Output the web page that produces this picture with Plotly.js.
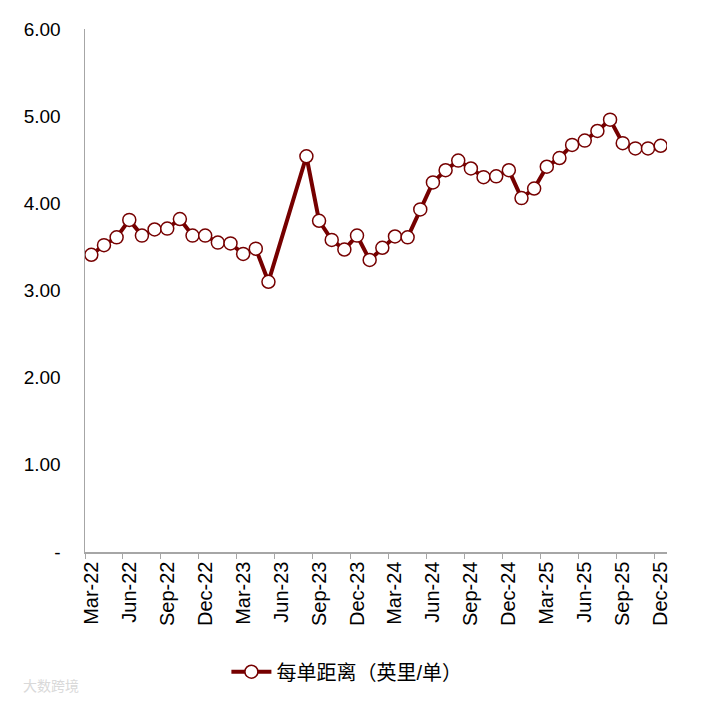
<!DOCTYPE html>
<html>
<head>
<meta charset="utf-8">
<script src="https://cdn.plot.ly/plotly-3.0.1.min.js"></script>
<style>
  html, body { margin: 0; padding: 0; background: #fff; }
  #chart { width: 705px; height: 702px; }
</style>
</head>
<body>
<div id="chart"></div>
<script>
// monthly categories, Mar-22 .. Dec-25
const months = [
    "Mar-22", "Apr-22", "May-22", "Jun-22", "Jul-22", "Aug-22", "Sep-22", "Oct-22", "Nov-22", "Dec-22",
    "Jan-23", "Feb-23", "Mar-23", "Apr-23", "May-23", "Jun-23", "Jul-23", "Aug-23", "Sep-23", "Oct-23",
    "Nov-23", "Dec-23", "Jan-24", "Feb-24", "Mar-24", "Apr-24", "May-24", "Jun-24", "Jul-24", "Aug-24",
    "Sep-24", "Oct-24", "Nov-24", "Dec-24", "Jan-25", "Feb-25", "Mar-25", "Apr-25", "May-25", "Jun-25",
    "Jul-25", "Aug-25", "Sep-25", "Oct-25", "Nov-25", "Dec-25"
];

// miles per order (Jun-23, Jul-23 missing)
const milesPerOrder = [
    3.41, 3.52, 3.61, 3.81, 3.63, 3.70, 3.71, 3.82, 3.63, 3.63,
    3.55, 3.54, 3.42, 3.48, 3.10, null, null, 4.54, 3.80, 3.58,
    3.47, 3.63, 3.35, 3.49, 3.62, 3.61, 3.93, 4.24, 4.38, 4.49,
    4.40, 4.30, 4.31, 4.38, 4.06, 4.17, 4.42, 4.52, 4.67, 4.72,
    4.83, 4.96, 4.69, 4.63, 4.63, 4.66
];

const seriesName = "每单距离（英里/单）";
const yTickVals = [0, 1, 2, 3, 4, 5, 6];
const yTickText = ["-", "1.00", "2.00", "3.00", "4.00", "5.00", "6.00"];

const LINE_CLR = "#760000";
const FONT = "Liberation Sans, Arial, Noto Sans CJK SC, sans-serif";

const trace = {
    x: months,
    y: milesPerOrder,
    type: "scatter",
    mode: "lines+markers",
    name: seriesName,
    connectgaps: true,
    line: {color: LINE_CLR, width: 4},
    marker: {size: 13, color: "#ffffff", line: {color: LINE_CLR, width: 1.5}}
};

const layout = {
    width: 705,
    height: 702,
    margin: {l: 85, r: 38, t: 29.5, b: 149},
    paper_bgcolor: "#ffffff",
    plot_bgcolor: "#ffffff",
    font: {family: FONT, size: 19, color: "#000"},
    showlegend: true,
    xaxis: {
        type: "category",
        range: [-0.5, 45.5],
        dtick: 3,
        tick0: 0,
        tickson: "boundaries",   // ticks between months, labels centred
        ticks: "outside",
        ticklen: 5,
        tickcolor: "#a6a6a6",
        tickangle: -90,
        tickfont: {size: 20, family: FONT},
        showline: true,
        linecolor: "#a6a6a6",
        linewidth: 1.5,
        showgrid: false,
        zeroline: false,
        fixedrange: true
    },
    yaxis: {
        range: [0, 6],
        tickvals: yTickVals,
        ticktext: yTickText,
        ticks: "",
        ticklabelstandoff: 19,
        tickfont: {size: 19, family: FONT},
        showline: true,
        linecolor: "#a6a6a6",
        linewidth: 1.5,
        showgrid: false,
        zeroline: false,
        fixedrange: true
    },
    legend: {
        orientation: "h",
        x: 0.45,
        xanchor: "center",
        y: -0.227,
        yanchor: "middle",
        itemwidth: 40,
        font: {size: 20, family: FONT, color: "#000"}
    },
    annotations: [{
        text: "大数跨境",
        xref: "paper", yref: "paper",
        x: -0.11, y: -0.255,
        xanchor: "left", yanchor: "middle",
        showarrow: false,
        font: {size: 14, color: "#d9d9d9", family: "Noto Sans CJK SC"}
    }]
};

Plotly.newPlot("chart", [trace], layout, {displayModeBar: false, staticPlot: true});
</script>
</body>
</html>
